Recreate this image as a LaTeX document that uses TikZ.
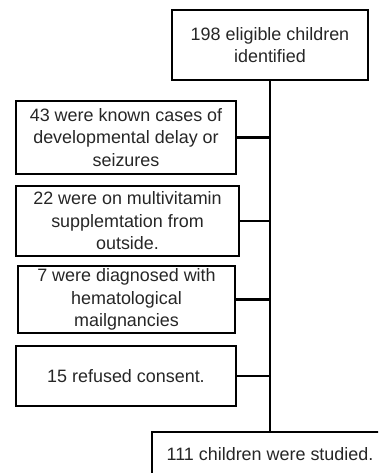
\documentclass[tikz,border=0pt]{standalone}
\usepackage{fontspec}
\setmainfont{Liberation Sans}
\begin{document}
\begin{tikzpicture}[x=1bp,y=-1bp,
  box/.style={draw=black,line width=2.4bp,align=center,inner sep=0pt,
    font=\fontsize{18}{22.5}\selectfont,text=black!85},
  link/.style={line width=2.6bp}]
\useasboundingbox (0,0) rectangle (378,473);
\clip (0,0) rectangle (378,473);
\node[box,minimum width=196bp,minimum height=70bp] (top) at (270,45) {198 eligible children\\identified};
\node[box,minimum width=220bp,minimum height=73bp] (b1) at (126,137.5) {43 were known cases of\\developmental delay or\\seizures};
\node[box,minimum width=223bp,minimum height=70bp] (b2) at (127.5,221) {22 were on multivitamin\\supplemtation from\\outside.};
\node[box,minimum width=217bp,minimum height=67bp] (b3) at (126.5,299.5) {7 were diagnosed with\\hematological\\mailgnancies};
\node[box,minimum width=220bp,minimum height=60bp] (b4) at (126,376) {15 refused consent.};
\node[box,line width=2bp,minimum width=236bp,minimum height=44bp] (res) at (270,454) {111 children were studied.};
\coordinate (j4) at (b4.east -| top.south);
\draw[link] (top.south) -- (j4);
\draw[line width=1.8bp] (j4) -- ++(0,32) -- (j4 |- res.north);
\foreach \b in {b1,b2,b3,b4}
  \draw[link] (\b.east) -- (\b.east -| top.south);
\end{tikzpicture}
\end{document}
